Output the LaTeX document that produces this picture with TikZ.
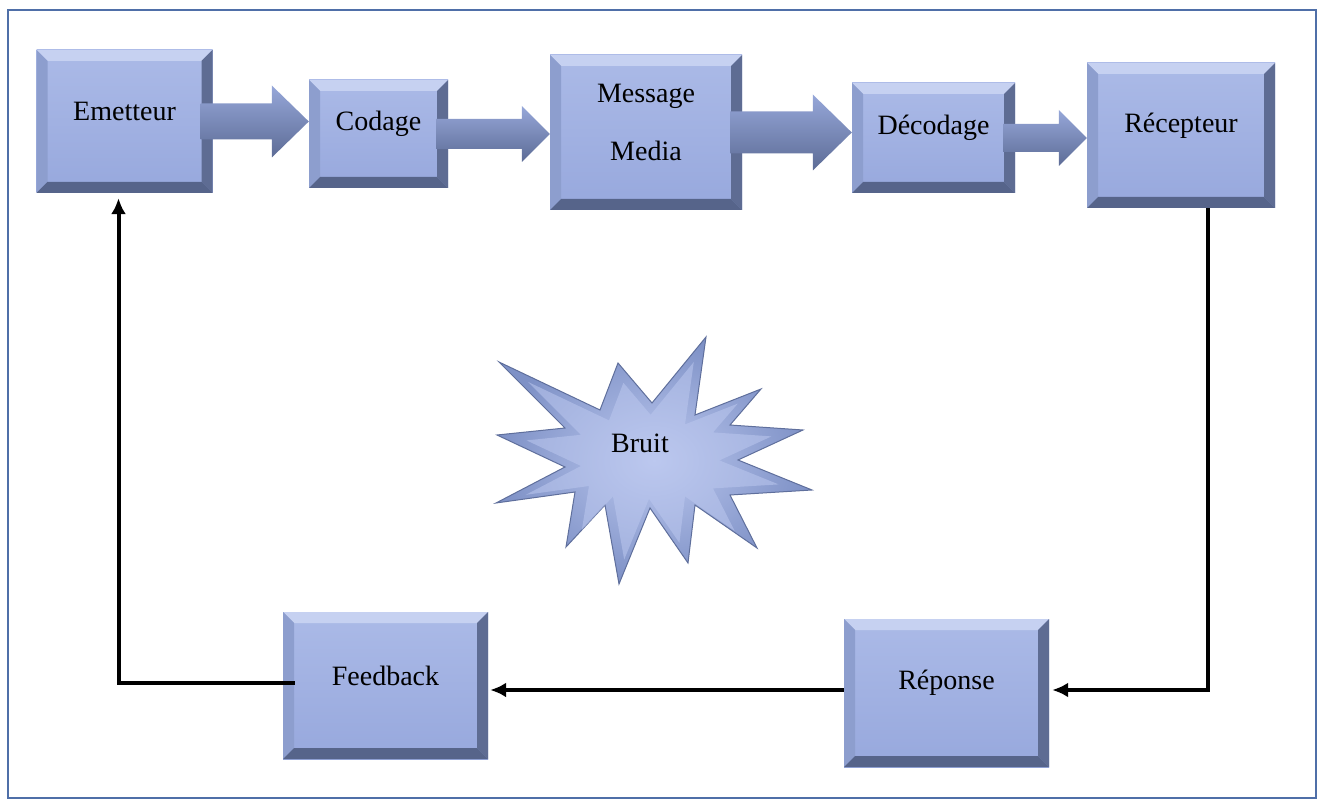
\documentclass[tikz,border=0pt]{standalone}
\usepackage{fontspec}
\setmainfont{Liberation Serif}
\usetikzlibrary{calc,positioning,arrows.meta}

\definecolor{faceTop}{HTML}{ABBAE7}
\definecolor{faceBot}{HTML}{97A8DD}
\definecolor{bevTop}{HTML}{C6D1F1}
\definecolor{bevLeft}{HTML}{8D9ECE}
\definecolor{bevRight}{HTML}{5E6C93}
\definecolor{bevBot}{HTML}{56648A}
\definecolor{arrTop}{HTML}{96A7D9}
\definecolor{arrMid}{HTML}{C9D4F3}
\definecolor{arrBot}{HTML}{5D6C96}
\definecolor{starIn}{HTML}{BCC8EF}
\definecolor{starOut}{HTML}{7E91C6}
\definecolor{starRim}{HTML}{5F6F9C}
\definecolor{frameBlue}{HTML}{4F6FA8}

\tikzset{
  box/.style={rectangle, inner sep=0pt, top color=faceTop, bottom color=faceBot,
    path picture={
      \coordinate (nw) at (path picture bounding box.north west);
      \coordinate (ne) at (path picture bounding box.north east);
      \coordinate (sw) at (path picture bounding box.south west);
      \coordinate (se) at (path picture bounding box.south east);
      \fill[bevTop] (nw) -- (ne) -- ([shift={(-11pt,-11pt)}]ne) -- ([shift={(11pt,-11pt)}]nw) -- cycle;
      \fill[bevLeft] (nw) -- ([shift={(11pt,-11pt)}]nw) -- ([shift={(11pt,11pt)}]sw) -- (sw) -- cycle;
      \fill[bevRight] (ne) -- ([shift={(-11pt,-11pt)}]ne) -- ([shift={(-11pt,11pt)}]se) -- (se) -- cycle;
      \fill[bevBot] (sw) -- ([shift={(11pt,11pt)}]sw) -- ([shift={(-11pt,11pt)}]se) -- (se) -- cycle;
    }},
  txt/.style={font=\fontsize{28}{34}\selectfont, text=black, yshift=10pt},
  fatarrow/.style={top color=arrTop, middle color=arrMid, bottom color=arrBot},
  link/.style={line width=4pt, -{Latex[length=16pt,width=15pt]}},
}

% thick arrow from one box to the next
\newcommand{\fatarrow}[5]{%
  \path[fatarrow] let \p1=(#1.east), \p2=(#2.west) in
    (\x1-12pt,\y1+#3) -- (\x2-#5,\y1+#3) -- (\x2-#5,\y1+#4) -- (\x2,\y1)
    -- (\x2-#5,\y1-#4) -- (\x2-#5,\y1-#3) -- (\x1-12pt,\y1-#3) -- cycle;}

% outline of the noise burst
\newcommand{\burst}{(499,362) -- (600,410) -- (618,363) -- (652,403) -- (706,337) -- (695,415)
    -- (761,389) -- (730,425) -- (803,430) -- (738,460) -- (812,490) -- (730,495)
    -- (757,548) -- (695,505) -- (688,563) -- (650,508) -- (619,584) -- (605,505)
    -- (566,547) -- (575,492) -- (496,503) -- (565,467) -- (497,435) -- (565,428) -- cycle}

\begin{document}
\begin{tikzpicture}[x=1pt,y=-1pt]
  \useasboundingbox (0,0) rectangle (1323,802);
  \draw[frameBlue, line width=2pt] (8,10) rectangle (1316,798);

  % top row
  \node[box, minimum width=176, minimum height=143, label={[txt]center:Emetteur}] (emetteur) at (124.5,121.5) {};
  \node[box, minimum width=139, minimum height=108, label={[txt]center:Codage}] (codage) at (378.5,134) {};
  \node[box, minimum width=192, minimum height=155, label={[txt,align=center]center:{Message\\[24pt]Media}}] (message) at (646,132.5) {};
  \node[box, minimum width=163, minimum height=110, label={[txt]center:Décodage}] (decodage) at (933.5,138) {};
  \node[box, minimum width=188, minimum height=145, label={[txt]center:Récepteur}] (recepteur) at (1181,135.5) {};

  % bottom row
  \node[box, minimum width=205, minimum height=147, label={[txt]center:Feedback}] (feedback) at (385.5,685.5) {};
  \node[box, minimum width=205, minimum height=148, label={[txt]center:Réponse}] (reponse) at (946.5,693) {};

  \fatarrow{emetteur}{codage}{18pt}{36pt}{37pt}
  \fatarrow{codage}{message}{15pt}{28pt}{28pt}
  \fatarrow{message}{decodage}{21pt}{38pt}{39pt}
  \fatarrow{decodage}{recepteur}{14pt}{28pt}{28pt}

  % noise burst
  \path[shading=radial, inner color=starIn, outer color=starOut, draw=starRim, line width=1pt] \burst;
  \begin{scope}[shift={(645,462)}, scale=0.8, shift={(-645,-462)}]
    \fill[starIn, opacity=0.55] \burst;
  \end{scope}
  \node[font=\fontsize{28}{34}\selectfont] (bruit) at (640,443) {Bruit};

  % return path
  \draw[link] ([xshift=27pt]recepteur.south) |- ([xshift=3pt,yshift=3pt]reponse.east);
  \draw[link] ([yshift=3pt]reponse.west) -- ([xshift=2pt,yshift=3pt]reponse.west -| feedback.east);
  \draw[link] ([xshift=12pt,yshift=3pt]feedback.west) -| ([xshift=-6pt,yshift=-5pt]emetteur.south);
\end{tikzpicture}
\end{document}
